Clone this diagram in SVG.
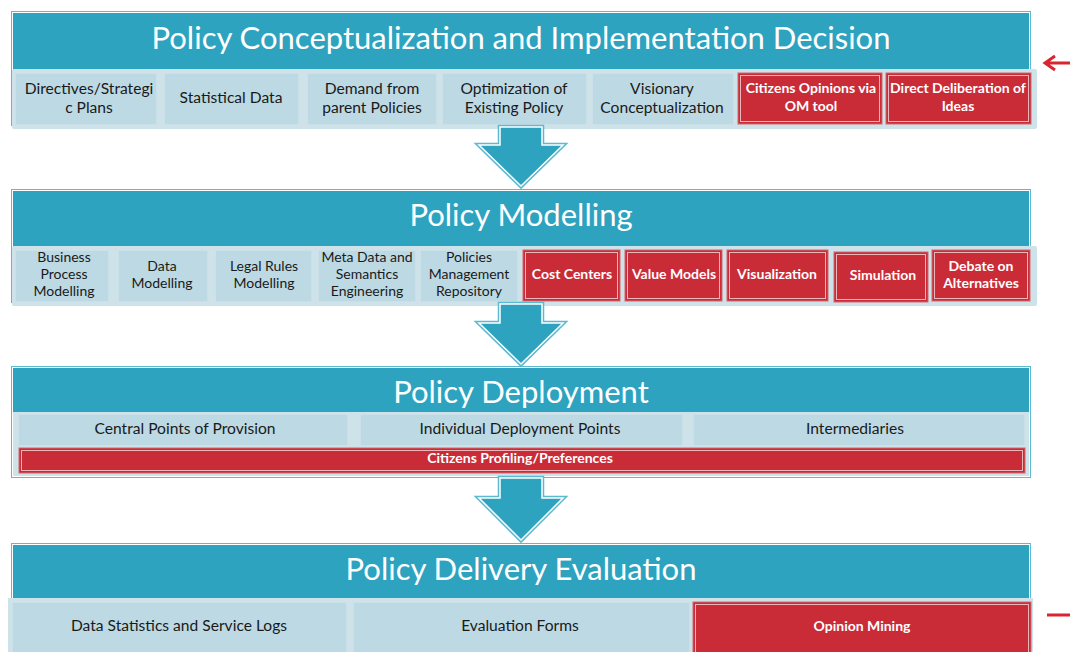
<svg xmlns="http://www.w3.org/2000/svg" width="1070" height="652" viewBox="0 0 1070 652">
<style>
.frame{fill:#ffffff;stroke:#5DB9D0;stroke-width:1}
.band{fill:#2DA3BF}
.row{fill:#CDE2E9}
.sub{fill:#BDD9E3;stroke:#CFE2EA;stroke-width:1.5}
.red{fill:#C92B37;stroke:#D3666E;stroke-width:1}
.redin{fill:none;stroke:#EBB5B9;stroke-width:1}
.title{font-family:Lato,"Open Sans","DejaVu Sans",sans-serif;font-size:31px;fill:#ffffff;text-anchor:middle}
.t{font-family:Lato,"Open Sans","DejaVu Sans",sans-serif;font-size:15.6px;fill:#1a1a1a;text-anchor:middle}
.ts{font-family:Lato,"Open Sans","DejaVu Sans",sans-serif;font-size:14px;fill:#1a1a1a;text-anchor:middle}
.tr{font-family:Lato,"Open Sans","DejaVu Sans",sans-serif;font-size:14px;font-weight:bold;fill:#ffffff;text-anchor:middle}
.arr{fill:#2DA3BF;stroke:#ffffff;stroke-width:1.5}
.arrout{fill:none;stroke:#5DB9D0;stroke-width:4.5;stroke-linejoin:miter}
.redl{fill:none;stroke:#D7262F;stroke-width:3}
</style>
<rect width="1070" height="652" fill="#ffffff"/>

<g id="section1">
<rect class="frame" x="11.5" y="11.5" width="1019" height="114"/>
<rect class="band" x="13" y="13" width="1016" height="60"/>
<text class="title" x="521" y="49">Policy Conceptualization and Implementation Decision</text>
<rect class="row" x="12" y="69" width="1025" height="60" rx="2"/>
<g id="n-directives"><rect class="sub" x="15" y="73" width="142" height="52"/><text class="t" x="89" y="93.5">Directives/Strategi</text><text class="t" x="89" y="112.5">c Plans</text></g>
<g id="n-statistical"><rect class="sub" x="164" y="73" width="135" height="52"/><text class="t" x="231" y="103">Statistical Data</text></g>
<g id="n-demand"><rect class="sub" x="307" y="73" width="130" height="52"/><text class="t" x="372" y="93.5">Demand from</text><text class="t" x="372" y="112.5">parent Policies</text></g>
<g id="n-optimization"><rect class="sub" x="442" y="73" width="145" height="52"/><text class="t" x="514" y="93.5">Optimization of</text><text class="t" x="514" y="112.5">Existing Policy</text></g>
<g id="n-visionary"><rect class="sub" x="592" y="73" width="142" height="52"/><text class="t" x="662" y="93.5">Visionary</text><text class="t" x="662" y="112.5">Conceptualization</text></g>
<g id="n-citizens-om"><rect class="red" x="738" y="73" width="144" height="51"/><rect class="redin" x="740.5" y="75.5" width="139" height="46"/><text class="tr" x="811" y="93">Citizens Opinions via</text><text class="tr" x="811" y="111">OM tool</text></g>
<g id="n-deliberation"><rect class="red" x="886" y="73" width="145" height="51"/><rect class="redin" x="888.5" y="75.5" width="140" height="46"/><text class="tr" x="958" y="93">Direct Deliberation of</text><text class="tr" x="958" y="111">Ideas</text></g>
</g>

<g id="section2">
<rect class="frame" x="11.5" y="189.5" width="1019" height="113"/>
<rect class="band" x="13" y="191" width="1016" height="58"/>
<text class="title" x="521" y="226">Policy Modelling</text>
<rect class="row" x="12" y="246" width="1025" height="60" rx="2"/>
<g id="n-bpm"><rect class="sub" x="15" y="250" width="94" height="52"/><text class="ts" x="64" y="262">Business</text><text class="ts" x="64" y="279">Process</text><text class="ts" x="64" y="296">Modelling</text></g>
<g id="n-datamod"><rect class="sub" x="118" y="250" width="90" height="52"/><text class="ts" x="162" y="271">Data</text><text class="ts" x="162" y="288">Modelling</text></g>
<g id="n-legal"><rect class="sub" x="215" y="250" width="97" height="52"/><text class="ts" x="264" y="271">Legal Rules</text><text class="ts" x="264" y="288">Modelling</text></g>
<g id="n-meta"><rect class="sub" x="318" y="250" width="98" height="52"/><text class="ts" x="367" y="262">Meta Data and</text><text class="ts" x="367" y="279">Semantics</text><text class="ts" x="367" y="296">Engineering</text></g>
<g id="n-repository"><rect class="sub" x="420" y="250" width="98" height="52"/><text class="ts" x="469" y="262">Policies</text><text class="ts" x="469" y="279">Management</text><text class="ts" x="469" y="296">Repository</text></g>
<g id="n-cost"><rect class="red" x="523" y="250" width="97" height="51"/><rect class="redin" x="525.5" y="252.5" width="92" height="46"/><text class="tr" x="572" y="279">Cost Centers</text></g>
<g id="n-value"><rect class="red" x="625" y="250" width="97" height="51"/><rect class="redin" x="627.5" y="252.5" width="92" height="46"/><text class="tr" x="674" y="279">Value Models</text></g>
<g id="n-visualization"><rect class="red" x="727" y="250" width="101" height="51"/><rect class="redin" x="729.5" y="252.5" width="96" height="46"/><text class="tr" x="777" y="279">Visualization</text></g>
<g id="n-simulation"><rect class="red" x="834" y="252" width="94" height="50"/><rect class="redin" x="836.5" y="254.5" width="89" height="45"/><text class="tr" x="883" y="280">Simulation</text></g>
<g id="n-debate"><rect class="red" x="932" y="250" width="98" height="51"/><rect class="redin" x="934.5" y="252.5" width="93" height="46"/><text class="tr" x="981" y="271">Debate on</text><text class="tr" x="981" y="288">Alternatives</text></g>
</g>

<g id="section3">
<rect class="frame" x="11.5" y="366.5" width="1019" height="111"/>
<rect class="band" x="13" y="368" width="1016" height="46"/>
<text class="title" x="521" y="403">Policy Deployment</text>
<rect class="row" x="13" y="412" width="1016" height="64"/>
<g id="n-central"><rect class="sub" x="18" y="414" width="330" height="32"/><text class="t" x="185" y="434">Central Points of Provision</text></g>
<g id="n-individual"><rect class="sub" x="360" y="414" width="323" height="32"/><text class="t" x="520" y="434">Individual Deployment Points</text></g>
<g id="n-intermediaries"><rect class="sub" x="693" y="414" width="332" height="32"/><text class="t" x="855" y="434">Intermediaries</text></g>
<g id="n-profiling"><rect class="red" x="19" y="448" width="1006" height="25"/><rect class="redin" x="21.5" y="450.5" width="1001" height="20"/><text class="tr" x="520" y="463">Citizens Profiling/Preferences</text></g>
</g>

<g id="section4">
<rect class="frame" x="11.5" y="543.5" width="1019" height="115"/>
<rect class="band" x="13" y="545" width="1016" height="54"/>
<text class="title" x="521" y="580">Policy Delivery Evaluation</text>
<rect class="row" x="8" y="598" width="1025" height="60"/>
<g id="n-logs"><rect class="sub" x="12" y="602" width="335" height="56"/><text class="t" x="179" y="631">Data Statistics and Service Logs</text></g>
<g id="n-forms"><rect class="sub" x="353" y="602" width="337" height="56"/><text class="t" x="520" y="631">Evaluation Forms</text></g>
<g id="n-opinion"><rect class="red" x="693" y="602" width="338" height="56"/><rect class="redin" x="695.5" y="604.5" width="333" height="56"/><text class="tr" x="862" y="631">Opinion Mining</text></g>
</g>

<g id="connectors">
<polygon class="arrout" points="500,127 542,127 542,145 563,145 521,186 479,145 500,145"/>
<polygon class="arr" points="500,127 542,127 542,145 563,145 521,186 479,145 500,145"/>
<polygon class="arrout" points="500,304 542,304 542,323 563,323 521,364 479,323 500,323"/>
<polygon class="arr" points="500,304 542,304 542,323 563,323 521,364 479,323 500,323"/>
<polygon class="arrout" points="500,478 542,478 542,498 563,498 521,540 479,498 500,498"/>
<polygon class="arr" points="500,478 542,478 542,498 563,498 521,540 479,498 500,498"/>
<path class="redl" d="M1045,63 L1070,63 M1055,56 L1045,63 L1055,70"/>
<path class="redl" d="M1047,615 L1070,615"/>
</g>
</svg>
